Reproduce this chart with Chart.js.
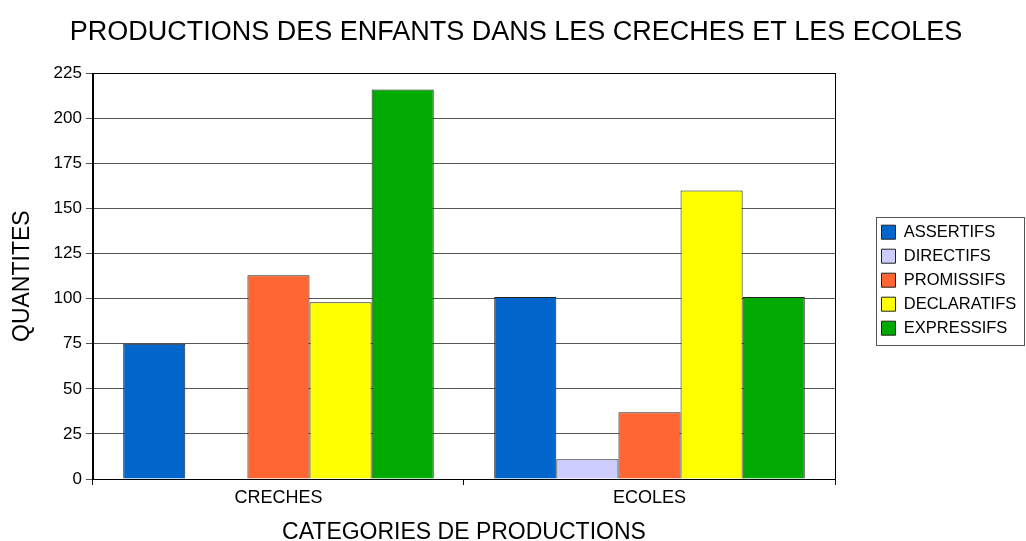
<!DOCTYPE html>
<html>
<head>
<meta charset="utf-8">
<script src="https://cdn.jsdelivr.net/npm/chart.js@4.4.1/dist/chart.umd.min.js"></script>
<style>
  html, body { margin: 0; padding: 0; background: #fff; }
  #wrap { width: 1026px; height: 541px; }
</style>
</head>
<body>
<div id="wrap"><canvas id="chart" width="1026" height="541"></canvas></div>
<script>
// données
const categories = ['CRECHES', 'ECOLES'];
const seriesNames = ['ASSERTIFS', 'DIRECTIFS', 'PROMISSIFS', 'DECLARATIFS', 'EXPRESSIFS'];
const assertifs = [75, 101];
const directifs = [0, 11];
const promissifs = [113, 37];
const declaratifs = [98, 160];
const expressifs = [216, 101];
const seriesColors = ['#0066CC', '#CCCCFF', '#FF6633', '#FFFF00', '#00AA00'];
const yTicks = [0, 25, 50, 75, 100, 125, 150, 175, 200, 225];

const FONT = 'Liberation Sans, Arial, sans-serif';
const LEGEND_WIDTH = 191;   // place réservée à droite pour la légende
const LEGEND_GAP = 39;      // écart entre zone de tracé et légende
const LEGEND_SHIFT = 4;     // légère descente de la légende

// légende : largeur fixe + décalage, puis cadre autour
const legendPlugin = {
    id: 'legendFix',
    beforeLayout(chart) {
        const lg = chart.legend;
        if (lg && !lg._patched) {
            const origFit = lg.fit.bind(lg);
            lg.fit = function () {
                origFit();
                this.width = LEGEND_WIDTH;
            };
            lg._patched = true;
        }
    },
    afterLayout(chart) {
        const lg = chart.legend;
        if (lg) {
            lg.left = chart.chartArea.right + LEGEND_GAP;
            lg.top += LEGEND_SHIFT;
            lg.bottom += LEGEND_SHIFT;
        }
    },
    afterDraw(chart) {
        const ctx = chart.ctx;
        const a = chart.chartArea;
        ctx.save();
        ctx.lineWidth = 1;
        ctx.strokeStyle = '#000';
        ctx.strokeRect(Math.round(a.left) + 0.5, Math.round(a.top) + 0.5,
            Math.round(a.right - a.left), Math.round(a.bottom - a.top));
        const hb = chart.legend && chart.legend.legendHitBoxes;
        if (hb && hb.length) {
            const left = Math.min(...hb.map(h => h.left)) - 6;
            const right = Math.max(...hb.map(h => h.left + h.width)) + 7;
            const top = hb[0].top - 7;
            const bottom = hb[hb.length - 1].top + hb[hb.length - 1].height + 8;
            ctx.strokeStyle = '#555';
            ctx.strokeRect(Math.round(left) + 0.5, Math.round(top) + 0.5,
                Math.round(right - left), Math.round(bottom - top));
        }
        ctx.restore();
    }
};

const allData = [assertifs, directifs, promissifs, declaratifs, expressifs];

new Chart(document.getElementById('chart'), {
    type: 'bar',
    data: {
        labels: categories,
        datasets: seriesNames.map((name, i) => ({
            label: name,
            data: allData[i],
            backgroundColor: seriesColors[i],
            borderColor: '#222',
            borderWidth: 1,
            barPercentage: 1.0,
            categoryPercentage: 0.837
        }))
    },
    options: {
        responsive: false,
        animation: false,
        layout: { padding: { left: 6, right: 0, top: 0, bottom: -3 } },
        plugins: {
            title: {
                display: true,
                text: 'PRODUCTIONS DES ENFANTS DANS LES CRECHES ET LES ECOLES',
                color: '#000',
                font: { family: FONT, size: 27, weight: 'normal', lineHeight: 1.2 },
                padding: { top: 16, bottom: 25 }
            },
            legend: {
                position: 'right',
                fullSize: false,
                labels: {
                    color: '#000',
                    font: { family: FONT, size: 16.5 },
                    boxWidth: 14,
                    boxHeight: 14,
                    padding: 7.5,
                    generateLabels(chart) {
                        return chart.data.datasets.map((ds, i) => ({
                            text: ds.label,
                            fillStyle: ds.backgroundColor,
                            strokeStyle: '#222',
                            lineWidth: 1,
                            datasetIndex: i,
                            fontColor: '#000'
                        }));
                    }
                }
            },
            tooltip: { enabled: false }
        },
        scales: {
            x: {
                grid: { display: true, drawOnChartArea: false, offset: true, tickLength: 6, color: '#000' },
                border: { color: '#000' },
                ticks: { color: '#000', font: { family: FONT, size: 18, lineHeight: 1 }, padding: 4 },
                title: {
                    display: true,
                    text: 'CATEGORIES DE PRODUCTIONS',
                    color: '#000',
                    font: { family: FONT, size: 23, lineHeight: 1 },
                    padding: { top: 10, bottom: 0 }
                }
            },
            y: {
                min: 0,
                max: 225,
                afterBuildTicks(axis) { axis.ticks = yTicks.map(v => ({ value: v })); },
                grid: { color: '#555', tickLength: 7 },
                border: { color: '#000' },
                ticks: { color: '#000', font: { family: FONT, size: 17 }, padding: 4 },
                title: {
                    display: true,
                    text: 'QUANTITES',
                    color: '#000',
                    font: { family: FONT, size: 23 },
                    padding: { top: 3, bottom: 13 }
                }
            }
        }
    },
    plugins: [legendPlugin]
});
</script>
</body>
</html>
